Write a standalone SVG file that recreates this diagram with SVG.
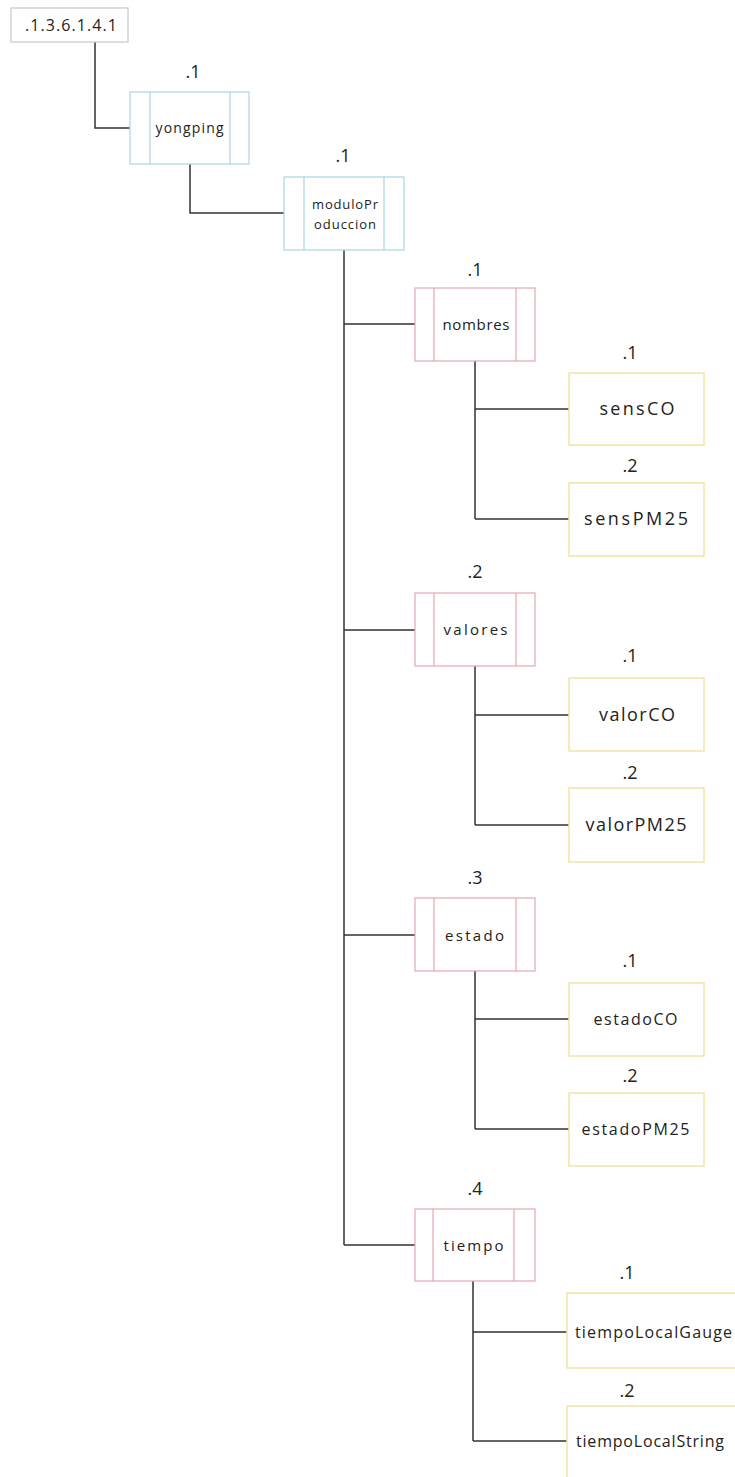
<svg xmlns="http://www.w3.org/2000/svg" width="735" height="1477" viewBox="0 0 735 1477">
<style>
  text { font-family: "Open Sans", "Liberation Sans", sans-serif; fill: #222; }
  .root { fill: #fff; stroke: #c8c8c8; stroke-width: 1.2; }
  .blue { fill: #fff; stroke: #a8d8e0; stroke-width: 1.2; }
  .red { fill: #fff; stroke: #e3a9b0; stroke-width: 1.2; }
  .yel { fill: #fff; stroke: #f3e4a4; stroke-width: 1.5; }
  .conn { fill: none; stroke: #333; stroke-width: 1.5; }
  .num { font-size: 18px; text-anchor: middle; }
  .lbl { text-anchor: middle; }
</style>
<rect width="735" height="1477" fill="#fff"/>
<g id="connectors">
  <path class="conn" d="M95,42 V128 H130"/>
  <path class="conn" d="M190,164 V213 H284"/>
  <path class="conn" d="M344,250 V1245"/>
  <path class="conn" d="M344,324 H415 M344,630 H415 M344,935 H415 M344,1245 H415"/>
  <path class="conn" d="M475,361 V519 M475,409 H569 M475,519 H569"/>
  <path class="conn" d="M475,666 V825 M475,715 H569 M475,825 H569"/>
  <path class="conn" d="M475,971 V1129 M475,1019 H569 M475,1129 H569"/>
  <path class="conn" d="M473,1281 V1441 M473,1332 H567 M473,1441 H567"/>
</g>
<g id="root">
  <rect class="root" x="11" y="8" width="117" height="34"/>
  <text class="lbl" x="71" y="31" font-size="16" textLength="92" lengthAdjust="spacing">.1.3.6.1.4.1</text>
</g>
<g id="yongping">
  <text class="num" x="193" y="78">.1</text>
  <rect class="blue" x="130" y="92" width="119" height="72"/>
  <path class="blue" d="M150,92 V164 M230,92 V164"/>
  <text class="lbl" x="189.5" y="133" font-size="14" textLength="68" lengthAdjust="spacing">yongping</text>
</g>
<g id="moduloProduccion">
  <text class="num" x="343" y="162">.1</text>
  <rect class="blue" x="284" y="177" width="120" height="73"/>
  <path class="blue" d="M304,177 V250 M384,177 V250"/>
  <text class="lbl" x="345" y="209" font-size="13" textLength="66" lengthAdjust="spacing">moduloPr</text>
  <text class="lbl" x="345" y="229" font-size="13" textLength="62" lengthAdjust="spacing">oduccion</text>
</g>
<g id="nombres">
  <text class="num" x="475" y="276">.1</text>
  <rect class="red" x="415" y="288" width="120" height="73"/>
  <path class="red" d="M434,288 V361 M516,288 V361"/>
  <text class="lbl" x="476" y="330" font-size="15" textLength="67" lengthAdjust="spacing">nombres</text>
</g>
<g id="sensCO">
  <text class="num" x="630" y="359">.1</text>
  <rect class="yel" x="569" y="373" width="135" height="72"/>
  <text class="lbl" x="637" y="415" font-size="18" textLength="75" lengthAdjust="spacing">sensCO</text>
</g>
<g id="sensPM25">
  <text class="num" x="630" y="472">.2</text>
  <rect class="yel" x="569" y="483" width="135" height="73"/>
  <text class="lbl" x="636" y="525" font-size="18" textLength="104" lengthAdjust="spacing">sensPM25</text>
</g>
<g id="valores">
  <text class="num" x="475" y="578">.2</text>
  <rect class="red" x="415" y="593" width="120" height="73"/>
  <path class="red" d="M434,593 V666 M516,593 V666"/>
  <text class="lbl" x="475.5" y="635" font-size="15" textLength="64" lengthAdjust="spacing">valores</text>
</g>
<g id="valorCO">
  <text class="num" x="630" y="662">.1</text>
  <rect class="yel" x="569" y="678" width="135" height="73"/>
  <text class="lbl" x="637" y="721" font-size="18" textLength="76" lengthAdjust="spacing">valorCO</text>
</g>
<g id="valorPM25">
  <text class="num" x="630" y="779">.2</text>
  <rect class="yel" x="569" y="788" width="135" height="74"/>
  <text class="lbl" x="636" y="831" font-size="18" textLength="101" lengthAdjust="spacing">valorPM25</text>
</g>
<g id="estado">
  <text class="num" x="475" y="884">.3</text>
  <rect class="red" x="415" y="898" width="120" height="73"/>
  <path class="red" d="M434,898 V971 M516,898 V971"/>
  <text class="lbl" x="474.5" y="941" font-size="15" textLength="59" lengthAdjust="spacing">estado</text>
</g>
<g id="estadoCO">
  <text class="num" x="630" y="967">.1</text>
  <rect class="yel" x="569" y="983" width="135" height="73"/>
  <text class="lbl" x="635.5" y="1025" font-size="16" textLength="84" lengthAdjust="spacing">estadoCO</text>
</g>
<g id="estadoPM25">
  <text class="num" x="630" y="1082">.2</text>
  <rect class="yel" x="569" y="1093" width="135" height="73"/>
  <text class="lbl" x="635.5" y="1135" font-size="16" textLength="108" lengthAdjust="spacing">estadoPM25</text>
</g>
<g id="tiempo">
  <text class="num" x="475" y="1195">.4</text>
  <rect class="red" x="415" y="1209" width="120" height="72"/>
  <path class="red" d="M433,1209 V1281 M514,1209 V1281"/>
  <text class="lbl" x="473.5" y="1251" font-size="15" textLength="60" lengthAdjust="spacing">tiempo</text>
</g>
<g id="tiempoLocalGauge">
  <text class="num" x="627" y="1279">.1</text>
  <rect class="yel" x="567" y="1293" width="190" height="75"/>
  <text x="575" y="1338" font-size="16" textLength="157" lengthAdjust="spacing">tiempoLocalGauge</text>
</g>
<g id="tiempoLocalString">
  <text class="num" x="627" y="1397">.2</text>
  <rect class="yel" x="567" y="1406" width="190" height="80"/>
  <text x="576" y="1447" font-size="16" textLength="148" lengthAdjust="spacing">tiempoLocalString</text>
</g>
</svg>
